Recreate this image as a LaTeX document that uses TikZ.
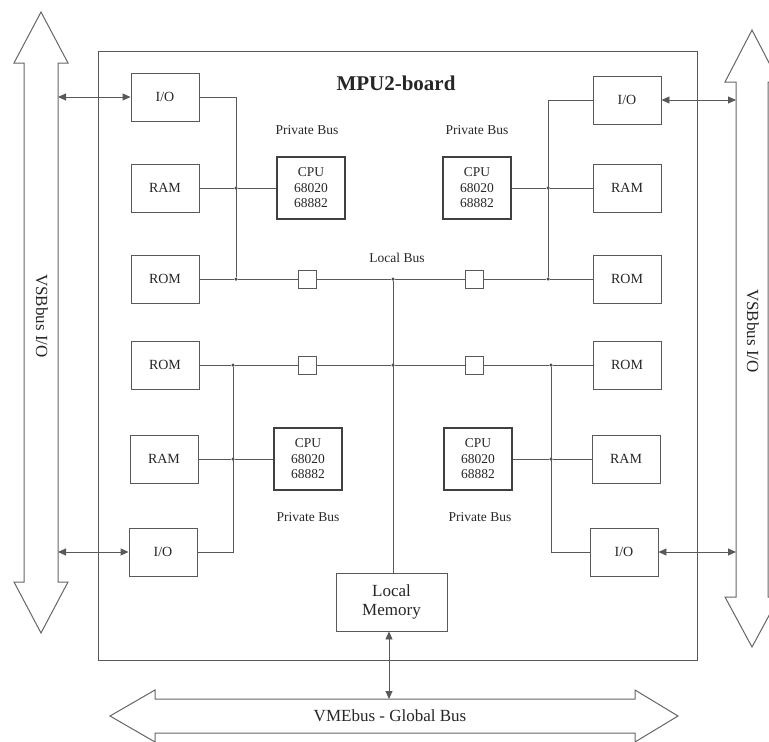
\documentclass[tikz,border=0pt]{standalone}
\usepackage{fontspec}
\setmainfont{Liberation Serif}
\usetikzlibrary{arrows.meta}
\begin{document}
\begin{tikzpicture}[x=1pt,y=-1pt,
  ln/.style={draw=black!65,line width=0.9pt},
  box/.style={ln,minimum width=68pt,minimum height=48pt,inner sep=0pt,font=\fontsize{14}{15.5}\selectfont,text=black!85},
  cpu/.style={draw=black!75,line width=2.4pt,minimum width=68pt,minimum height=62pt,inner sep=0pt,align=center,font=\fontsize{13.5}{15.5}\selectfont,text=black!85},
  sq/.style={ln,minimum size=18pt,inner sep=0pt},
  dot/.style={circle,fill=black!70,inner sep=0pt,minimum size=3.5pt},
  lbl/.style={font=\fontsize{13.5}{16}\selectfont,text=black!85},
  bus/.style={draw=black!60,line width=1pt,fill=white},
  io/.style={ln,{Triangle[length=8pt,width=7pt]}-{Triangle[length=8pt,width=7pt]}},
]
\useasboundingbox (0,0) rectangle (769,742);
\clip (0,0) rectangle (769,742);

% big bus arrows
\draw[bus] (41,12) -- (68,63) -- (58,63) -- (58,582) -- (68,582) -- (41,633) -- (14,582) -- (24,582) -- (24,63) -- (14,63) -- cycle;
\draw[bus] (752,30) -- (779,82) -- (768,82) -- (768,597) -- (779,597) -- (752,647) -- (725,597) -- (736,597) -- (736,82) -- (725,82) -- cycle;
\draw[bus] (110,716) -- (155,690) -- (155,699) -- (635,699) -- (635,690) -- (678,716) -- (635,742) -- (635,733) -- (155,733) -- (155,742) -- cycle;

\node[lbl,rotate=-90,font=\fontsize{17}{18}\selectfont] (vsbl) at (42,316) {VSBbus I/O};
\node[lbl,rotate=-90,font=\fontsize{17}{18}\selectfont] (vsbr) at (753,331) {VSBbus I/O};
\node[lbl,font=\fontsize{17}{18}\selectfont] (vme) at (390,716) {VMEbus - Global Bus};

% board
\node[draw=black!65,line width=1pt,minimum width=599pt,minimum height=609pt,inner sep=0pt] (board) at (397.5,355.5) {};
\node[font=\fontsize{21}{24}\selectfont\bfseries,text=black!85] (title) at (396,83) {MPU2-board};

% left column
\node[box] (ioL1) at (165,97) {I/O};
\node[box] (ramL1) at (165,188) {RAM};
\node[box] (romL1) at (165,279) {ROM};
\node[box] (romL2) at (165,365) {ROM};
\node[box] (ramL2) at (164,459) {RAM};
\node[box] (ioL2) at (163,552) {I/O};
% right column
\node[box] (ioR1) at (627,100) {I/O};
\node[box] (ramR1) at (627,188) {RAM};
\node[box] (romR1) at (627,279) {ROM};
\node[box] (romR2) at (627,365) {ROM};
\node[box] (ramR2) at (626,459) {RAM};
\node[box] (ioR2) at (624,552) {I/O};

% CPUs
\node[cpu] (cpuTL) at (311,188) {CPU\\68020\\68882};
\node[cpu] (cpuTR) at (477,188) {CPU\\68020\\68882};
\node[cpu] (cpuBL) at (308,459) {CPU\\68020\\68882};
\node[cpu] (cpuBR) at (478,459) {CPU\\68020\\68882};

\node[lbl] (pbTL) at (307,130) {Private Bus};
\node[lbl] (pbTR) at (477,130) {Private Bus};
\node[lbl] (pbBL) at (308,517) {Private Bus};
\node[lbl] (pbBR) at (480,517) {Private Bus};
\node[lbl] (lbus) at (397,258) {Local Bus};

% bus buffers
\node[sq] (sqTL) at (307,279) {};
\node[sq] (sqTR) at (474,279) {};
\node[sq] (sqBL) at (307,365) {};
\node[sq] (sqBR) at (474,365) {};

% junctions
\node[dot] (jTL) at (236,279) {};
\node[dot] (jTLr) at (236,188) {};
\node[dot] (jTC) at (393,279) {};
\node[dot] (jTR) at (548,279) {};
\node[dot] (jTRr) at (548,188) {};
\node[dot] (jBL) at (233,365) {};
\node[dot] (jBLr) at (233,459) {};
\node[dot] (jBC) at (393,365) {};
\node[dot] (jBR) at (551,365) {};
\node[dot] (jBRr) at (551,459) {};

% local memory
\node[box,minimum width=111pt,minimum height=58pt,align=center,font=\fontsize{17}{19}\selectfont] (lmem) at (391.5,602) {Local\\Memory};

% buses
\draw[ln] (romL1.east) -- (jTL) -- (sqTL) -- (jTC) -- (sqTR) -- (jTR) -- (romR1.west);
\draw[ln] (romL2.east) -- (jBL) -- (sqBL) -- (jBC) -- (sqBR) -- (jBR) -- (romR2.west);
\draw[ln] (ioL1.east) -| (jTL);
\draw[ln] (ramL1.east) -- (jTLr) -- (cpuTL.west);
\draw[ln] (ioR1.west) -| (jTR);
\draw[ln] (ramR1.west) -- (jTRr) -- (cpuTR.east);
\draw[ln] (jBL) |- (ioL2.east);
\draw[ln] (ramL2.east) -- (jBLr) -- (cpuBL.west);
\draw[ln] (jBR) |- (ioR2.west);
\draw[ln] (ramR2.west) -- (jBRr) -- (cpuBR.east);
\draw[ln] (jTC) -- (lmem.north -| jTC);

% I/O links to VSB
\coordinate (vl1) at (58,97);
\coordinate (vl2) at (58,552);
\coordinate (vr1) at (736,100);
\coordinate (vr2) at (736,552);
\draw[io] (vl1) -- (ioL1.west);
\draw[io] (vl2) -- (ioL2.west);
\draw[io] (ioR1.east) -- (vr1);
\draw[io] (ioR2.east) -- (vr2);

% local memory to VME
\coordinate (vmetop) at (389,699);
\draw[io] (lmem.south -| vmetop) -- (vmetop);
\end{tikzpicture}
\end{document}
